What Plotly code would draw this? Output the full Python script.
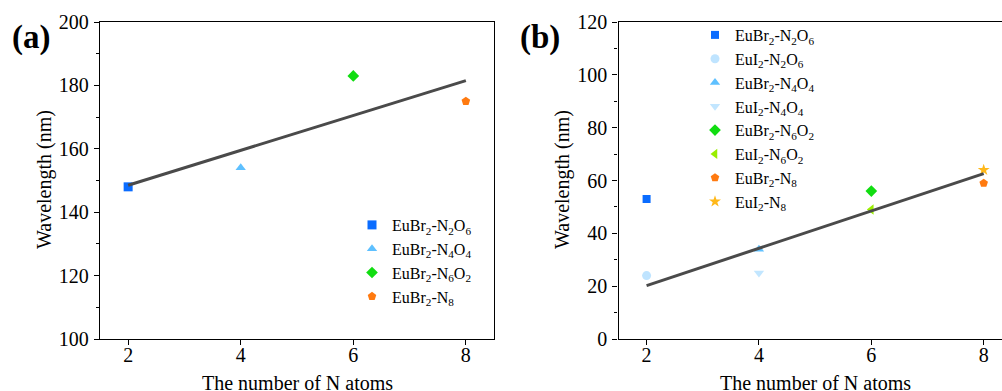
import numpy as np
import plotly.graph_objects as go

# ---------------- data ----------------
# panel (a)
a_names = ["EuBr<sub>2</sub>-N<sub>2</sub>O<sub>6</sub>",
           "EuBr<sub>2</sub>-N<sub>4</sub>O<sub>4</sub>",
           "EuBr<sub>2</sub>-N<sub>6</sub>O<sub>2</sub>",
           "EuBr<sub>2</sub>-N<sub>8</sub>"]
a_x = [2, 4, 6, 8]
a_y = [148, 154, 183, 175]

# panel (b)
b_names = ["EuBr<sub>2</sub>-N<sub>2</sub>O<sub>6</sub>",
           "EuI<sub>2</sub>-N<sub>2</sub>O<sub>6</sub>",
           "EuBr<sub>2</sub>-N<sub>4</sub>O<sub>4</sub>",
           "EuI<sub>2</sub>-N<sub>4</sub>O<sub>4</sub>",
           "EuBr<sub>2</sub>-N<sub>6</sub>O<sub>2</sub>",
           "EuI<sub>2</sub>-N<sub>6</sub>O<sub>2</sub>",
           "EuBr<sub>2</sub>-N<sub>8</sub>",
           "EuI<sub>2</sub>-N<sub>8</sub>"]
b_x = [2, 2, 4, 4, 6, 6, 8, 8]
b_y = [53, 24, 34, 25, 56, 49, 59, 64]
b_in_fit = [False, True, True, True, True, True, True, True]

x_ticks = [2, 4, 6, 8]

# ---------------- styles ----------------
a_symbols = ["square", "triangle-up", "diamond", "pentagon"]
a_colors = ["#0a6cff", "#5ec0ff", "#11dd11", "#ff7a10"]
b_symbols = ["square", "circle", "triangle-up", "triangle-down",
             "diamond", "triangle-left", "pentagon", "star"]
b_colors = ["#0a6cff", "#bfe4ff", "#5ec0ff", "#c2e6ff",
            "#11dd11", "#99ee00", "#ff7a10", "#ffb81a"]
b_sizes = [8, 9, 9, 9, 9, 9, 9, 9]

FONT = "Liberation Serif"
W, H = 1002, 391
ML, MT, MB = 0, 22, 52
PLOT_H = H - MT - MB

fig = go.Figure()

for n, x, y, s, c in zip(a_names, a_x, a_y, a_symbols, a_colors):
    fig.add_trace(go.Scatter(x=[x], y=[y], mode="markers", name=n,
                             marker=dict(symbol=s, color=c, size=9),
                             xaxis="x", yaxis="y", legend="legend"))

ka, ba = np.polyfit(a_x, a_y, 1)
fx = np.array([min(a_x), max(a_x)])
fig.add_trace(go.Scatter(x=fx, y=ka * fx + ba, mode="lines",
                         line=dict(color="#4a4a4a", width=3),
                         showlegend=False, xaxis="x", yaxis="y"))

for n, x, y, s, c, sz in zip(b_names, b_x, b_y, b_symbols, b_colors, b_sizes):
    fig.add_trace(go.Scatter(x=[x], y=[y], mode="markers", name=n,
                             marker=dict(symbol=s, color=c, size=sz),
                             xaxis="x2", yaxis="y2", legend="legend2"))

bx_fit = [x for x, m in zip(b_x, b_in_fit) if m]
by_fit = [y for y, m in zip(b_y, b_in_fit) if m]
kb, bb = np.polyfit(bx_fit, by_fit, 1)
fx = np.array([min(b_x), max(b_x)])
fig.add_trace(go.Scatter(x=fx, y=kb * fx + bb, mode="lines",
                         line=dict(color="#4a4a4a", width=3),
                         showlegend=False, xaxis="x2", yaxis="y2"))

tickfont = dict(family=FONT, size=20, color="black")
axis_common = dict(showline=True, linecolor="black", linewidth=1.3,
                   ticks="outside", ticklen=5, tickwidth=1.2, tickcolor="black",
                   showgrid=False, zeroline=False, tickfont=tickfont)

def px(v):
    return v / W

def py(v):
    return (H - MB - v) / PLOT_H

fig.update_layout(
    width=W, height=H,
    margin=dict(l=ML, r=0, t=MT, b=MB),
    paper_bgcolor="white", plot_bgcolor="white",
    font=dict(family=FONT, size=20, color="black"),
    xaxis=dict(domain=[px(100), px(494)], range=[1.5, 8.5], tickvals=x_ticks,
               mirror=True, anchor="y", ticklabelstandoff=-7, **axis_common),
    yaxis=dict(domain=[0, 1], range=[100, 200], dtick=20, mirror=True, anchor="x",
               minor=dict(ticks="outside", ticklen=3, dtick=10, tickcolor="black"),
               ticklabelstandoff=1, **axis_common),
    xaxis2=dict(domain=[px(618.5), 1], range=[1.5, 8.5 - (1011.8 - 1002) / 56.2],
                tickvals=x_ticks, mirror=True, anchor="y2", ticklabelstandoff=-7,
                **axis_common),
    yaxis2=dict(domain=[0, 1], range=[0, 120], dtick=20, mirror=False, anchor="x2",
                minor=dict(ticks="outside", ticklen=3, dtick=10, tickcolor="black"),
                ticklabelstandoff=1, **axis_common),
    legend=dict(x=px(352), y=py(208), xanchor="left", yanchor="top",
                bgcolor="rgba(0,0,0,0)", font=dict(family=FONT, size=16, color="black"),
                tracegroupgap=0, maxheight=400),
    legend2=dict(x=px(695), y=py(18), xanchor="left", yanchor="top",
                 bgcolor="rgba(0,0,0,0)", font=dict(family=FONT, size=16, color="black"),
                 tracegroupgap=0, maxheight=400),
)

def note(text, x, y, size=20, angle=0):
    return dict(text=text, x=px(x), y=py(y), xref="paper", yref="paper",
                xanchor="center", yanchor="middle", textangle=angle,
                showarrow=False, font=dict(family=FONT, size=size, color="black"))

ann = [
    note("<b>(a)</b>", 31, 37, size=33),
    note("<b>(b)</b>", 540, 37, size=33),
    note("Wavelength (nm)", 44, 180, angle=-90),
    note("Wavelength (nm)", 562, 180, angle=-90),
    note("The number of N atoms", 297, 383),
    note("The number of N atoms", 815, 383),
]
fig.update_layout(annotations=ann)

fig.write_html("out.html")
